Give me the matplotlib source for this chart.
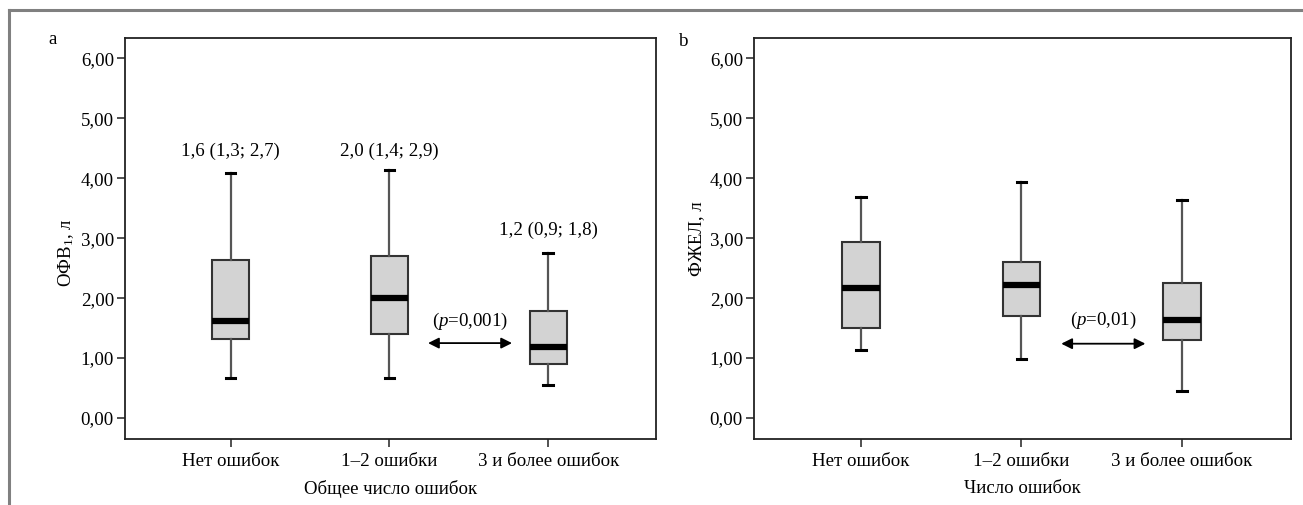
import matplotlib
matplotlib.use("Agg")
import matplotlib.pyplot as plt
from matplotlib.lines import Line2D

plt.rcParams['font.family'] = ['Liberation Serif', 'DejaVu Serif']
plt.rcParams['mathtext.fontset'] = 'custom'
plt.rcParams['mathtext.rm'] = 'Liberation Serif'
plt.rcParams['mathtext.it'] = 'Liberation Serif:italic'

categories = ['Нет ошибок', '1–2 ошибки', '3 и более ошибок']
yticks = [0, 1, 2, 3, 4, 5, 6]
ytick_labels = ['0,00', '1,00', '2,00', '3,00', '4,00', '5,00', '6,00']

# panel a: ОФВ1 — whisker low, Q1, median, Q3, whisker high
fev1_whislo = [0.665, 0.665, 0.55]
fev1_q1 = [1.31, 1.40, 0.90]
fev1_med = [1.62, 2.01, 1.18]
fev1_q3 = [2.63, 2.70, 1.79]
fev1_whishi = [4.09, 4.14, 2.76]
fev1_notes = ['1,6 (1,3; 2,7)', '2,0 (1,4; 2,9)', '1,2 (0,9; 1,8)']

# panel b: ФЖЕЛ
fvc_whislo = [1.14, 0.98, 0.455]
fvc_q1 = [1.50, 1.70, 1.30]
fvc_med = [2.17, 2.22, 1.63]
fvc_q3 = [2.93, 2.61, 2.26]
fvc_whishi = [3.69, 3.94, 3.63]

p_a = '($p$=0,001)'
p_b = '($p$=0,01)'

W, H = 1303, 505
fig = plt.figure(figsize=(W / 100, H / 100), dpi=100)

# outer gray frame (top and left edges)
fig.add_artist(Line2D([9 / W, 1.0], [1 - 10 / H, 1 - 10 / H], color='#808080', lw=2.2, transform=fig.transFigure))
fig.add_artist(Line2D([9 / W, 9 / W], [0.0, 1 - 10 / H], color='#808080', lw=2.2, transform=fig.transFigure))

ax_a = fig.add_axes([125 / W, 1 - 439 / H, 531 / W, 401 / H])
ax_b = fig.add_axes([754 / W, 1 - 439 / H, 537 / W, 401 / H])

FS = 13.6


def draw(ax, lo, q1, med, q3, hi, ylabel, xlabel):
    stats = []
    for i in range(len(categories)):
        stats.append(dict(whislo=lo[i], q1=q1[i], med=med[i], q3=q3[i], whishi=hi[i], fliers=[]))
    pos = list(range(1, len(categories) + 1))
    ax.bxp(stats, positions=pos, widths=0.233, capwidths=0.06, patch_artist=True, showfliers=False,
           boxprops=dict(facecolor='#d3d3d3', edgecolor='#333333', linewidth=1.5),
           medianprops=dict(color='black', linewidth=4.5, solid_capstyle='butt'),
           whiskerprops=dict(color='#555555', linewidth=1.6),
           capprops=dict(color='black', linewidth=2.2))
    ax.set_xlim(0.334, 3.679)
    ax.set_ylim(-0.35, 6.34)
    ax.set_yticks(yticks)
    ax.set_yticklabels(ytick_labels)
    ax.set_xticks(pos)
    ax.set_xticklabels(categories)
    ax.tick_params(axis='both', labelsize=FS, length=6, width=1.2, color='#333333', pad=2, direction='out')
    ax.tick_params(axis='x', pad=4)
    for s in ax.spines.values():
        s.set_linewidth(1.3)
        s.set_color('#222222')
    ax.set_ylabel(ylabel, fontsize=FS)
    ax.set_xlabel(xlabel, fontsize=FS, labelpad=7)


draw(ax_a, fev1_whislo, fev1_q1, fev1_med, fev1_q3, fev1_whishi, 'ОФВ$_1$, л', 'Общее число ошибок')
draw(ax_b, fvc_whislo, fvc_q1, fvc_med, fvc_q3, fvc_whishi, 'ФЖЕЛ, л', 'Число ошибок')
ax_a.yaxis.set_label_coords(-0.092, 0.464)
ax_b.yaxis.set_label_coords(-0.092, 0.50)

# median (IQR) notes above boxes in panel a
note_y = [4.45, 4.45, 3.13]
for i, t in enumerate(fev1_notes):
    ax_a.text(i + 1, note_y[i], t, ha='center', va='center', fontsize=FS)

# p-value arrows
arrow_a = (2.243, 2.772, 1.25)
arrow_b = (2.248, 2.772, 1.24)
for ax, (x1, x2, y), ptxt, ty in [(ax_a, arrow_a, p_a, 1.61), (ax_b, arrow_b, p_b, 1.62)]:
    ax.annotate('', xy=(x2, y), xytext=(x1, y),
                arrowprops=dict(arrowstyle='<|-|>', color='black', lw=1.3, mutation_scale=16,
                                shrinkA=0, shrinkB=0))
    ax.text((x1 + x2) / 2, ty, ptxt, ha='center', va='center', fontsize=FS)

fig.text(53 / W, 1 - 40 / H, 'a', fontsize=FS, ha='center', va='center')
fig.text(683 / W, 1 - 42 / H, 'b', fontsize=FS, ha='center', va='center')

fig.savefig('out.png', dpi=100)
